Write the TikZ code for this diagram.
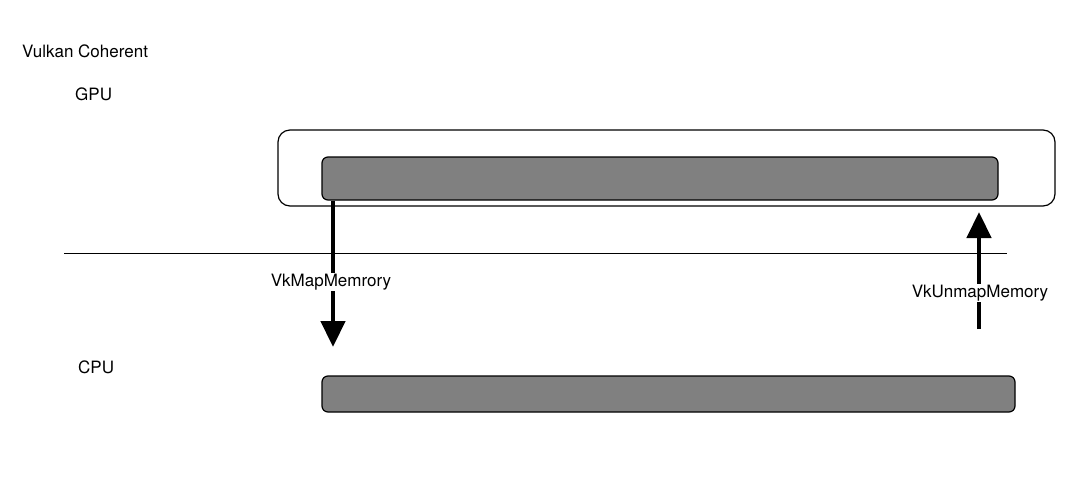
\documentclass[tikz,border=0pt]{standalone}
\usepackage{fontspec}
\setmainfont{TeX Gyre Heros}
\usepackage{xcolor}
\usetikzlibrary{arrows.meta, positioning, calc}
\definecolor{vkgray}{RGB}{128,128,128}

\tikzset{
  memlabel/.style={font=\fontsize{17}{20}\selectfont, inner sep=1pt},
  heapbox/.style={draw, line width=1.2pt, rounded corners=12pt},
  membar/.style={draw, line width=1.2pt, fill=vkgray, rounded corners=6pt},
  maparrow/.style={line width=4.5pt, -{Triangle[width=24pt,length=26pt]}}
}

\begin{document}
\begin{tikzpicture}[x=1pt,y=-1pt]
\useasboundingbox (0,0) rectangle (1080,480);

% Titles
\node[memlabel, anchor=west] (title) at (21,51) {Vulkan Coherent};
\node[memlabel, anchor=west] (gpu) at (74,94) {GPU};
\node[memlabel, anchor=west] (cpu) at (77,367) {CPU};

% Memory
\node[heapbox, minimum width=777pt, minimum height=76pt] (heap) at (666.5,168) {};
\node[membar, minimum width=676pt, minimum height=43pt] (gpubar) at (660,178.5) {};
\node[membar, minimum width=693pt, minimum height=36pt] (cpubar) at (668.5,394) {};

% Divider
\coordinate (divl) at (64,253);
\coordinate (divr) at (1007,253);
\draw[line width=0.8pt] (divl) -- (divr);

% Map / unmap
\coordinate (mapend) at (333,347);
\coordinate (unmapstart) at (979,329);
\coordinate (unmapend) at (979,212);
\draw[maparrow] (gpubar.south -| mapend) -- (mapend);
\draw[maparrow] (unmapstart) -- (unmapend);
\node[memlabel, fill=white] (map) at (331,282) {VkMapMemrory};
\node[memlabel, fill=white] (unmap) at (980,293) {VkUnmapMemory};
\end{tikzpicture}
\end{document}
